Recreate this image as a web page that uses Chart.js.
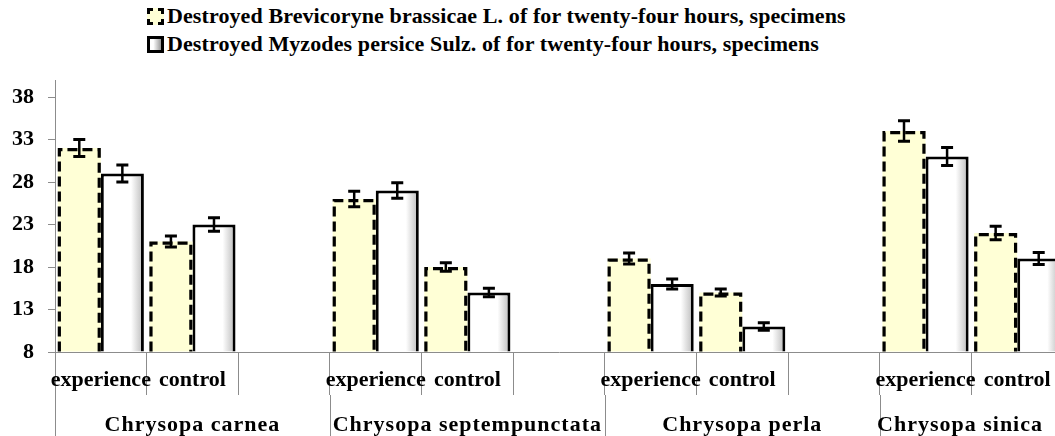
<!DOCTYPE html>
<html>
<head>
<meta charset="utf-8">
<script src="https://cdn.jsdelivr.net/npm/chart.js@4.4.1/dist/chart.umd.min.js"></script>
<style>
    html, body { margin: 0; padding: 0; background: #fff; overflow: hidden; }
    body { width: 1055px; height: 436px; position: relative; }
    #wrap { position: absolute; left: 0; top: 0; width: 1070px; height: 436px; }
    #legend { position: absolute; left: 147px; top: 2px; font-family: "Liberation Serif", serif; font-weight: bold; font-size: 22px; letter-spacing: 0.1px; color: #000; }
    .item { height: 28px; line-height: 28px; display: flex; align-items: center; white-space: nowrap; }
    .box { width: 11px; height: 11px; margin-right: 3px; }
    .box.brev { background: #ffffd6; border: 3px dashed #000; }
    .box.myz { background: linear-gradient(to right, #fff 30%, #999); border: 3px solid #000; }
</style>
</head>
<body>
<div id="legend"></div>
<div id="wrap"><canvas id="myChart"></canvas></div>
<script>
const categories = ['experience', 'control', '', 'experience', 'control', '', 'experience', 'control', '', 'experience', 'control'];
const groups = ['Chrysopa carnea', 'Chrysopa septempunctata', 'Chrysopa perla', 'Chrysopa sinica'];
const groupFirst = [0, 3, 6, 9];
const groupLast = [2, 5, 8, 10];
const seriesNames = [
    'Destroyed Brevicoryne brassicae L. of for twenty-four hours, specimens',
    'Destroyed Myzodes persice Sulz. of for twenty-four hours, specimens'
];
const brevicoryne = [32, 21, null, 26, 18, null, 19, 15, null, 34, 22];
const brevicoryneErr = [1.0, 0.65, null, 0.9, 0.5, null, 0.65, 0.4, null, 1.2, 0.8];
const myzodes = [29, 23, null, 27, 15, null, 16, 11, null, 31, 19];
const myzodesErr = [1.0, 0.8, null, 0.9, 0.5, null, 0.6, 0.45, null, 1.05, 0.7];
const yTicks = [8, 13, 18, 23, 28, 33, 38];
const yMax = 40;

const serif = "'Liberation Serif', serif";
const axisGray = '#8c8c8c';

// legend as html, one row per series
const legendDiv = document.getElementById('legend');
['brev', 'myz'].forEach((cls, i) => {
    const row = document.createElement('div');
    row.className = 'item';
    row.innerHTML = '<span class="box ' + cls + '"></span>' + seriesNames[i];
    legendDiv.appendChild(row);
});

function myzodesFill(context) {
    const el = context.element;
    if (!el || !el.width) return '#ffffff';
    const left = el.x - el.width / 2;
    const g = context.chart.ctx.createLinearGradient(left, 0, left + el.width, 0);
    g.addColorStop(0, '#ffffff');
    g.addColorStop(0.7, '#ffffff');
    g.addColorStop(1, '#b8b8b8');
    return g;
}

// dashed outline for the first series (bar elements can't dash their border)
const dashedBorders = {
    id: 'dashedBorders',
    afterDatasetsDraw(chart) {
        const ctx = chart.ctx;
        const meta = chart.getDatasetMeta(0);
        ctx.save();
        ctx.strokeStyle = '#000';
        ctx.lineWidth = 3.2;
        ctx.setLineDash([10, 5]);
        meta.data.forEach((bar, i) => {
            if (brevicoryne[i] === null) return;
            const l = bar.x - bar.width / 2 + 1.6;
            const r = bar.x + bar.width / 2 - 1.6;
            const t = bar.y + 1.6;
            ctx.beginPath();
            ctx.moveTo(l, bar.base);
            ctx.lineTo(l, t);
            ctx.lineTo(r, t);
            ctx.lineTo(r, bar.base);
            ctx.stroke();
        });
        ctx.restore();
    }
};

const errorBars = {
    id: 'errorBars',
    afterDatasetsDraw(chart) {
        const ctx = chart.ctx;
        const y = chart.scales.y;
        const errs = [brevicoryneErr, myzodesErr];
        ctx.save();
        ctx.strokeStyle = '#000';
        errs.forEach((errList, d) => {
            const values = chart.data.datasets[d].data;
            chart.getDatasetMeta(d).data.forEach((bar, i) => {
                if (values[i] === null) return;
                const top = y.getPixelForValue(values[i] + errList[i]);
                const bottom = y.getPixelForValue(values[i] - errList[i]);
                ctx.lineWidth = 2.5;
                ctx.beginPath();
                ctx.moveTo(bar.x, top);
                ctx.lineTo(bar.x, bottom);
                ctx.stroke();
                ctx.lineWidth = 3;
                ctx.beginPath();
                ctx.moveTo(bar.x - 6, top);
                ctx.lineTo(bar.x + 6, top);
                ctx.moveTo(bar.x - 6, bottom);
                ctx.lineTo(bar.x + 6, bottom);
                ctx.stroke();
            });
        });
        ctx.restore();
    }
};

// second level of the category axis: group names and long separators
const groupAxis = {
    id: 'groupAxis',
    afterDraw(chart) {
        const ctx = chart.ctx;
        const x = chart.scales.x;
        const area = chart.chartArea;
        ctx.save();
        ctx.strokeStyle = axisGray;
        ctx.lineWidth = 1;
        groupFirst.forEach(first => {
            const px = Math.round(x.getPixelForValue(first - 0.5)) + 0.5;
            ctx.beginPath();
            ctx.moveTo(px, area.bottom + 43);
            ctx.lineTo(px, chart.height);
            ctx.stroke();
        });
        ctx.fillStyle = '#000';
        ctx.font = 'bold 22px ' + serif;
        ctx.letterSpacing = '1px';
        ctx.textAlign = 'center';
        ctx.textBaseline = 'alphabetic';
        const visibleRight = window.innerWidth - 12;
        groups.forEach((name, i) => {
            const l = x.getPixelForValue(groupFirst[i] - 0.5);
            const r = x.getPixelForValue(groupLast[i] + 0.5);
            const w = ctx.measureText(name).width;
            let cx = (l + r) / 2;
            if (cx + w / 2 > visibleRight) cx = visibleRight - w / 2;
            ctx.fillText(name, cx, 431);
        });
        ctx.restore();
    }
};

const chart = new Chart(document.getElementById('myChart'), {
    type: 'bar',
    data: {
        labels: categories,
        datasets: [
            {
                label: seriesNames[0],
                data: brevicoryne,
                base: yTicks[0],
                backgroundColor: '#ffffd6',
                borderWidth: 0
            },
            {
                label: seriesNames[1],
                data: myzodes,
                base: yTicks[0],
                backgroundColor: myzodesFill,
                borderColor: '#000',
                borderWidth: 3
            }
        ]
    },
    options: {
        responsive: true,
        maintainAspectRatio: false,
        animation: false,
        layout: { padding: { top: 80, right: 7, left: 0, bottom: 0 } },
        datasets: { bar: { categoryPercentage: 0.94, barPercentage: 1 } },
        plugins: {
            legend: { display: false },
            tooltip: { enabled: false }
        },
        scales: {
            x: {
                type: 'category',
                grid: { offset: true, drawOnChartArea: false, tickLength: 43, color: axisGray },
                border: { color: axisGray },
                ticks: {
                    autoSkip: false,
                    maxRotation: 0,
                    minRotation: 0,
                    padding: -28,
                    color: '#000',
                    font: { family: serif, size: 22, weight: 'bold' }
                },
                afterFit: scale => { scale.height = 84; }
            },
            y: {
                min: yTicks[0],
                max: yMax,
                grid: { drawOnChartArea: false, tickLength: 7, color: axisGray },
                border: { color: axisGray },
                ticks: {
                    padding: 14,
                    color: '#000',
                    font: { family: serif, size: 22, weight: 'bold' }
                },
                afterBuildTicks: scale => { scale.ticks = yTicks.map(v => ({ value: v })); },
                afterFit: scale => { scale.width = 55; }
            }
        }
    },
    plugins: [dashedBorders, errorBars, groupAxis]
});
// second pass so the gradient can read the bar geometry
chart.update();
</script>
</body>
</html>
